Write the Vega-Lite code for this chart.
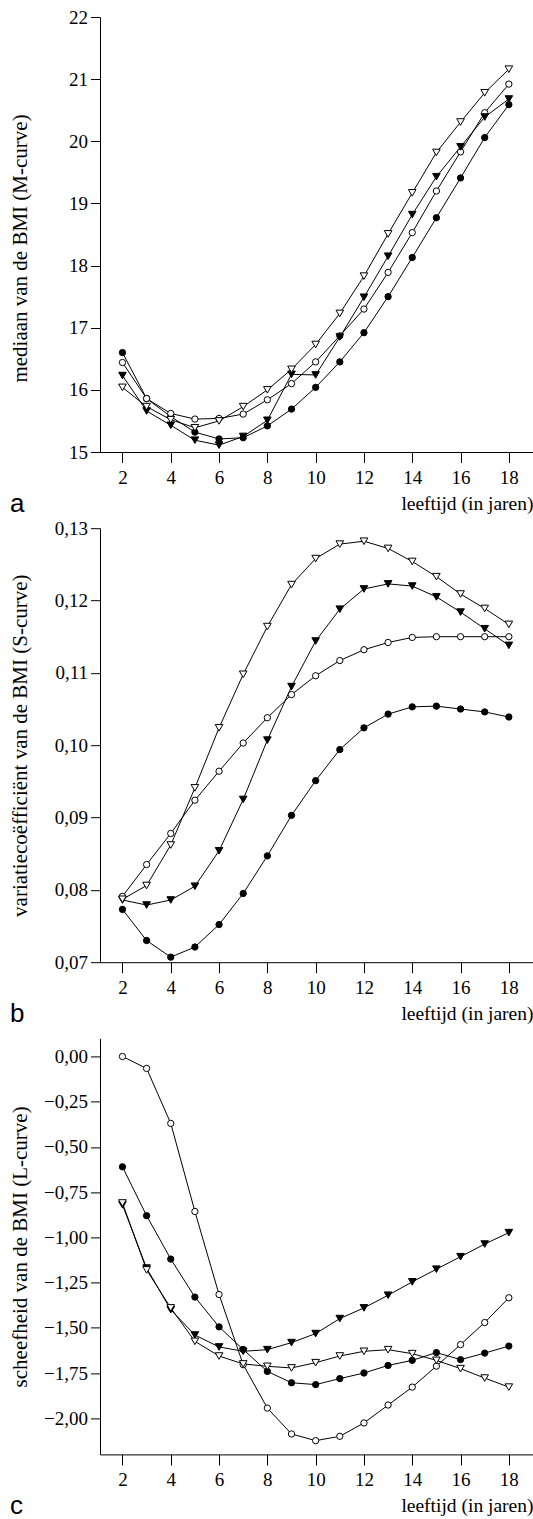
{
  "$schema": "https://vega.github.io/schema/vega-lite/v6.json",
  "description": "M-, S- en L-curves van de BMI naar leeftijd voor vier groepen.",
  "background": "white",
  "padding": {"left": 8, "top": 8, "right": 0, "bottom": 0},
  "bounds": "flush",
  "spacing": 76.2,
  "config": {
    "locale": {"number": {"decimal": ",", "thousands": ".", "grouping": [3], "currency": ["€", ""]}},
    "view": {"stroke": null},
    "font": "Liberation Serif",
    "axis": {
      "grid": false,
      "domainColor": "black",
      "domainWidth": 1,
      "tickColor": "black",
      "tickWidth": 1,
      "tickSize": 9.5,
      "labelColor": "black",
      "labelFont": "Liberation Serif",
      "labelFontSize": 19,
      "labelFlush": false,
      "titleColor": "black",
      "titleFont": "Liberation Serif",
      "titleFontWeight": "normal"
    },
    "axisY": {"labelPadding": 3, "titleFontSize": 21, "titleX": -74, "titleBaseline": "alphabetic"},
    "axisX": {"tickSize": 10.5, "labelPadding": 6, "titleFontSize": 19.5, "titleAnchor": "end", "titleY": 57.5, "titleBaseline": "alphabetic"},
    "title": {
      "orient": "bottom",
      "anchor": "start",
      "frame": "group",
      "dx": -90,
      "offset": -22,
      "baseline": "alphabetic",
      "font": "Liberation Sans",
      "fontSize": 26,
      "fontWeight": "normal",
      "color": "black"
    }
  },
  "datasets": {
    "bmi": [
      {"leeftijd": 2, "groep": "g1", "M": 16.6, "S": 0.0773, "L": -0.61},
      {"leeftijd": 3, "groep": "g1", "M": 15.86, "S": 0.073, "L": -0.88},
      {"leeftijd": 4, "groep": "g1", "M": 15.57, "S": 0.0707, "L": -1.12},
      {"leeftijd": 5, "groep": "g1", "M": 15.32, "S": 0.0721, "L": -1.33},
      {"leeftijd": 6, "groep": "g1", "M": 15.21, "S": 0.0752, "L": -1.495},
      {"leeftijd": 7, "groep": "g1", "M": 15.23, "S": 0.0795, "L": -1.62},
      {"leeftijd": 8, "groep": "g1", "M": 15.42, "S": 0.0847, "L": -1.741},
      {"leeftijd": 9, "groep": "g1", "M": 15.69, "S": 0.0903, "L": -1.804},
      {"leeftijd": 10, "groep": "g1", "M": 16.04, "S": 0.0951, "L": -1.814},
      {"leeftijd": 11, "groep": "g1", "M": 16.45, "S": 0.0994, "L": -1.781},
      {"leeftijd": 12, "groep": "g1", "M": 16.92, "S": 0.1024, "L": -1.75},
      {"leeftijd": 13, "groep": "g1", "M": 17.5, "S": 0.1043, "L": -1.708},
      {"leeftijd": 14, "groep": "g1", "M": 18.13, "S": 0.1053, "L": -1.68},
      {"leeftijd": 15, "groep": "g1", "M": 18.77, "S": 0.1054, "L": -1.637},
      {"leeftijd": 16, "groep": "g1", "M": 19.41, "S": 0.105, "L": -1.676},
      {"leeftijd": 17, "groep": "g1", "M": 20.06, "S": 0.1046, "L": -1.64},
      {"leeftijd": 18, "groep": "g1", "M": 20.59, "S": 0.1039, "L": -1.601},

      {"leeftijd": 2, "groep": "g2", "M": 16.44, "S": 0.0791, "L": 0.0},
      {"leeftijd": 3, "groep": "g2", "M": 15.86, "S": 0.0835, "L": -0.066},
      {"leeftijd": 4, "groep": "g2", "M": 15.62, "S": 0.0878, "L": -0.37},
      {"leeftijd": 5, "groep": "g2", "M": 15.53, "S": 0.0924, "L": -0.857},
      {"leeftijd": 6, "groep": "g2", "M": 15.54, "S": 0.0964, "L": -1.316},
      {"leeftijd": 7, "groep": "g2", "M": 15.61, "S": 0.1003, "L": -1.704},
      {"leeftijd": 8, "groep": "g2", "M": 15.84, "S": 0.1038, "L": -1.944},
      {"leeftijd": 9, "groep": "g2", "M": 16.1, "S": 0.107, "L": -2.087},
      {"leeftijd": 10, "groep": "g2", "M": 16.45, "S": 0.1096, "L": -2.124},
      {"leeftijd": 11, "groep": "g2", "M": 16.87, "S": 0.1117, "L": -2.1},
      {"leeftijd": 12, "groep": "g2", "M": 17.3, "S": 0.1132, "L": -2.026},
      {"leeftijd": 13, "groep": "g2", "M": 17.89, "S": 0.1142, "L": -1.927},
      {"leeftijd": 14, "groep": "g2", "M": 18.53, "S": 0.1149, "L": -1.828},
      {"leeftijd": 15, "groep": "g2", "M": 19.2, "S": 0.115, "L": -1.712},
      {"leeftijd": 16, "groep": "g2", "M": 19.83, "S": 0.115, "L": -1.593},
      {"leeftijd": 17, "groep": "g2", "M": 20.46, "S": 0.115, "L": -1.471},
      {"leeftijd": 18, "groep": "g2", "M": 20.92, "S": 0.115, "L": -1.334},

      {"leeftijd": 2, "groep": "g3", "M": 16.23, "S": 0.0786, "L": -0.82},
      {"leeftijd": 3, "groep": "g3", "M": 15.66, "S": 0.0779, "L": -1.17},
      {"leeftijd": 4, "groep": "g3", "M": 15.43, "S": 0.0786, "L": -1.4},
      {"leeftijd": 5, "groep": "g3", "M": 15.19, "S": 0.0805, "L": -1.54},
      {"leeftijd": 6, "groep": "g3", "M": 15.11, "S": 0.0854, "L": -1.606},
      {"leeftijd": 7, "groep": "g3", "M": 15.25, "S": 0.0925, "L": -1.63},
      {"leeftijd": 8, "groep": "g3", "M": 15.51, "S": 0.1007, "L": -1.621},
      {"leeftijd": 9, "groep": "g3", "M": 16.25, "S": 0.1081, "L": -1.582},
      {"leeftijd": 10, "groep": "g3", "M": 16.24, "S": 0.1144, "L": -1.532},
      {"leeftijd": 11, "groep": "g3", "M": 16.85, "S": 0.1188, "L": -1.449},
      {"leeftijd": 12, "groep": "g3", "M": 17.49, "S": 0.1216, "L": -1.39},
      {"leeftijd": 13, "groep": "g3", "M": 18.15, "S": 0.1223, "L": -1.32},
      {"leeftijd": 14, "groep": "g3", "M": 18.82, "S": 0.122, "L": -1.246},
      {"leeftijd": 15, "groep": "g3", "M": 19.43, "S": 0.1205, "L": -1.176},
      {"leeftijd": 16, "groep": "g3", "M": 19.91, "S": 0.1184, "L": -1.107},
      {"leeftijd": 17, "groep": "g3", "M": 20.39, "S": 0.1161, "L": -1.037},
      {"leeftijd": 18, "groep": "g3", "M": 20.68, "S": 0.1138, "L": -0.974},

      {"leeftijd": 2, "groep": "g4", "M": 16.04, "S": 0.0787, "L": -0.81},
      {"leeftijd": 3, "groep": "g4", "M": 15.73, "S": 0.0806, "L": -1.18},
      {"leeftijd": 4, "groep": "g4", "M": 15.52, "S": 0.0862, "L": -1.39},
      {"leeftijd": 5, "groep": "g4", "M": 15.39, "S": 0.0941, "L": -1.575},
      {"leeftijd": 6, "groep": "g4", "M": 15.5, "S": 0.1024, "L": -1.656},
      {"leeftijd": 7, "groep": "g4", "M": 15.73, "S": 0.1098, "L": -1.7},
      {"leeftijd": 8, "groep": "g4", "M": 16.0, "S": 0.1164, "L": -1.713},
      {"leeftijd": 9, "groep": "g4", "M": 16.33, "S": 0.1222, "L": -1.722},
      {"leeftijd": 10, "groep": "g4", "M": 16.73, "S": 0.1258, "L": -1.693},
      {"leeftijd": 11, "groep": "g4", "M": 17.23, "S": 0.1278, "L": -1.656},
      {"leeftijd": 12, "groep": "g4", "M": 17.83, "S": 0.1282, "L": -1.63},
      {"leeftijd": 13, "groep": "g4", "M": 18.51, "S": 0.1272, "L": -1.621},
      {"leeftijd": 14, "groep": "g4", "M": 19.17, "S": 0.1254, "L": -1.643},
      {"leeftijd": 15, "groep": "g4", "M": 19.82, "S": 0.1233, "L": -1.68},
      {"leeftijd": 16, "groep": "g4", "M": 20.31, "S": 0.1209, "L": -1.726},
      {"leeftijd": 17, "groep": "g4", "M": 20.78, "S": 0.1189, "L": -1.778},
      {"leeftijd": 18, "groep": "g4", "M": 21.16, "S": 0.1167, "L": -1.828}
    ]
  },
  "vconcat": [
    {
      "width": 433,
      "height": 435,
      "title": {"text": "a"},
      "data": {"name": "bmi"},
      "encoding": {
        "x": {"field": "leeftijd", "type": "quantitative", "scale": {"domain": [1.07, 19], "nice": false},
              "axis": {"values": [2, 4, 6, 8, 10, 12, 14, 16, 18], "title": "leeftijd (in jaren)"}},
        "y": {"field": "M", "type": "quantitative", "scale": {"domain": [15, 22], "nice": false, "zero": false},
              "axis": {"values": [15, 16, 17, 18, 19, 20, 21, 22], "format": "d", "title": "mediaan van de BMI (M-curve)", "titleY": 231}}
      },
      "layer": [
        {"mark": {"type": "line", "color": "black", "strokeWidth": 1}, "encoding": {"detail": {"field": "groep"}}},
        {"mark": {"type": "point", "filled": true, "opacity": 1, "stroke": "black", "strokeWidth": 1},
         "encoding": {
           "shape": {"field": "groep", "type": "nominal", "scale": {"domain": ["g1", "g2", "g3", "g4"], "range": ["circle", "circle", "triangle-down", "triangle-down"]}, "legend": null},
           "fill": {"field": "groep", "type": "nominal", "scale": {"domain": ["g1", "g2", "g3", "g4"], "range": ["black", "white", "black", "white"]}, "legend": null},
           "size": {"condition": {"test": "datum.groep === 'g3' || datum.groep === 'g4'", "value": 58}, "value": 40}
         }}
      ]
    },
    {
      "width": 433,
      "height": 434,
      "title": {"text": "b"},
      "data": {"name": "bmi"},
      "encoding": {
        "x": {"field": "leeftijd", "type": "quantitative", "scale": {"domain": [1.07, 19], "nice": false},
              "axis": {"values": [2, 4, 6, 8, 10, 12, 14, 16, 18], "title": "leeftijd (in jaren)"}},
        "y": {"field": "S", "type": "quantitative", "scale": {"domain": [0.07, 0.13], "nice": false, "zero": false},
              "axis": {"values": [0.07, 0.08, 0.09, 0.1, 0.11, 0.12, 0.13], "format": ".2f", "title": "variatiecoëfficiënt van de BMI (S-curve)"}}
      },
      "layer": [
        {"mark": {"type": "line", "color": "black", "strokeWidth": 1}, "encoding": {"detail": {"field": "groep"}}},
        {"mark": {"type": "point", "filled": true, "opacity": 1, "stroke": "black", "strokeWidth": 1},
         "encoding": {
           "shape": {"field": "groep", "type": "nominal", "scale": {"domain": ["g1", "g2", "g3", "g4"], "range": ["circle", "circle", "triangle-down", "triangle-down"]}, "legend": null},
           "fill": {"field": "groep", "type": "nominal", "scale": {"domain": ["g1", "g2", "g3", "g4"], "range": ["black", "white", "black", "white"]}, "legend": null},
           "size": {"condition": {"test": "datum.groep === 'g3' || datum.groep === 'g4'", "value": 58}, "value": 40}
         }}
      ]
    },
    {
      "width": 433,
      "height": 416,
      "title": {"text": "c"},
      "data": {"name": "bmi"},
      "encoding": {
        "x": {"field": "leeftijd", "type": "quantitative", "scale": {"domain": [1.07, 19], "nice": false},
              "axis": {"values": [2, 4, 6, 8, 10, 12, 14, 16, 18], "title": "leeftijd (in jaren)"}},
        "y": {"field": "L", "type": "quantitative", "scale": {"domain": [-2.2, 0.1], "nice": false, "zero": false},
              "axis": {"values": [-2, -1.75, -1.5, -1.25, -1, -0.75, -0.5, -0.25, 0], "format": ".2f", "title": "scheefheid van de BMI (L-curve)"}}
      },
      "layer": [
        {"mark": {"type": "line", "color": "black", "strokeWidth": 1}, "encoding": {"detail": {"field": "groep"}}},
        {"mark": {"type": "point", "filled": true, "opacity": 1, "stroke": "black", "strokeWidth": 1},
         "encoding": {
           "shape": {"field": "groep", "type": "nominal", "scale": {"domain": ["g1", "g2", "g3", "g4"], "range": ["circle", "circle", "triangle-down", "triangle-down"]}, "legend": null},
           "fill": {"field": "groep", "type": "nominal", "scale": {"domain": ["g1", "g2", "g3", "g4"], "range": ["black", "white", "black", "white"]}, "legend": null},
           "size": {"condition": {"test": "datum.groep === 'g3' || datum.groep === 'g4'", "value": 58}, "value": 40}
         }}
      ]
    }
  ]
}
